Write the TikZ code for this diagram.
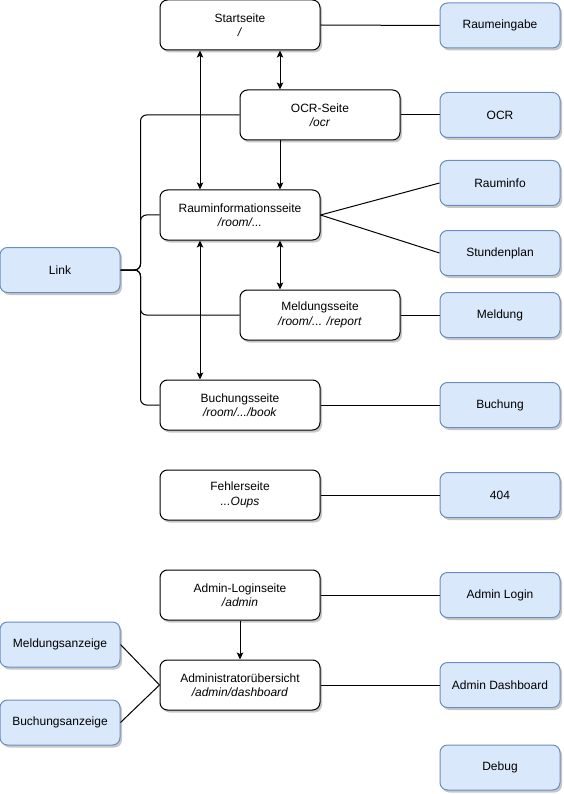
\documentclass[tikz,border=0pt]{standalone}
\usepackage{fontspec}
\setmainfont{Liberation Sans}
\usetikzlibrary{arrows.meta,shadows}
\definecolor{bluefill}{HTML}{DAE8FC}
\definecolor{blueline}{HTML}{6C8EBF}
\tikzset{
  boxshadow/.style={drop shadow={shadow xshift=2pt,shadow yshift=-2.5pt,opacity=0.22,fill=black}},
  page/.style={draw=black,fill=white,line width=1pt,rounded corners=7.5pt,
    minimum width=160pt,minimum height=50pt,inner sep=0pt,align=center,
    font=\fontsize{12}{14.4}\selectfont,boxshadow},
  feature/.style={draw=blueline,fill=bluefill,line width=1pt,rounded corners=7.5pt,
    minimum width=120pt,minimum height=45pt,inner sep=0pt,align=center,
    font=\fontsize{12}{14.4}\selectfont,boxshadow},
  link/.style={line width=1pt,draw=black},
  arr/.style={link,-{Stealth[length=7pt,width=6.5pt,inset=1.5pt]}},
  biarr/.style={link,{Stealth[length=7pt,width=6.5pt,inset=1.5pt]}-{Stealth[length=7pt,width=6.5pt,inset=1.5pt]}},
}
\begin{document}
\begin{tikzpicture}[x=1pt,y=-1pt]
\useasboundingbox (0,0) rectangle (563,794);

% page nodes
\node[page] (start) at (240,25)  {Startseite\\\textit{/}};
\node[page] (ocrp)  at (320,115) {OCR-Seite\\\textit{/ocr}};
\node[page] (room)  at (240,215) {Rauminformationsseite\\\textit{/room/...}};
\node[page] (rep)   at (320,315) {Meldungsseite\\\textit{/room/... /report}};
\node[page] (book)  at (240,405) {Buchungsseite\\\textit{/room/.../book}};
\node[page] (err)   at (240,495) {Fehlerseite\\\textit{...Oups}};
\node[page] (login) at (240,595) {Admin-Loginseite\\\textit{/admin}};
\node[page] (dash)  at (240,685) {Administratorübersicht\\\textit{/admin/dashboard}};

% feature nodes
\node[feature] (fin)    at (500,25.5) {Raumeingabe};
\node[feature] (focr)   at (500,115)  {OCR};
\node[feature] (finfo)  at (500,183)  {Rauminfo};
\node[feature] (fplan)  at (500,253)  {Stundenplan};
\node[feature] (frep)   at (500,315)  {Meldung};
\node[feature] (fbook)  at (500,405)  {Buchung};
\node[feature] (f404)   at (500,495)  {404};
\node[feature] (flog)   at (500,595)  {Admin Login};
\node[feature] (fdash)  at (500,685)  {Admin Dashboard};
\node[feature] (fdbg)   at (500,767.5){Debug};
\node[feature] (flink)  at (60,270)   {Link};
\node[feature] (fmel)   at (60,644.5) {Meldungsanzeige};
\node[feature] (fbuch)  at (60,722.5) {Buchungsanzeige};

% page-to-feature links
\draw[link] (start.east) -- (fin.west);
\draw[link] (ocrp.east) -- (focr.west);
\draw[link] (room.east) -- (finfo.west);
\draw[link] (room.east) -- (fplan.west);
\draw[link] (rep.east) -- (frep.west);
\draw[link] (book.east) -- (fbook.west);
\draw[link] (err.east) -- (f404.west);
\draw[link] (login.east) -- (flog.west);
\draw[link] (dash.east) -- (fdash.west);
\draw[link] (fmel.east) -- (dash.west);
\draw[link] (fbuch.east) -- (dash.west);

% link tree
\draw[link,rounded corners=6pt] (flink.east) -- ++(20,0) |- (ocrp.west);
\draw[link,rounded corners=6pt] (flink.east) -- ++(20,0) |- (room.west);
\draw[link,rounded corners=6pt] (flink.east) -- ++(20,0) |- (rep.west);
\draw[link,rounded corners=6pt] (flink.east) -- ++(20,0) |- (book.west);

% navigation
\draw[biarr] ([xshift=-40pt]start.south) -- ([xshift=-40pt]room.north);
\draw[biarr] ([xshift=40pt]start.south) -- ([xshift=-40pt]ocrp.north);
\draw[arr] ([xshift=-40pt]ocrp.south) -- ([xshift=40pt]room.north);
\draw[biarr] ([xshift=-40pt]room.south) -- ([xshift=-40pt]book.north);
\draw[biarr] ([xshift=40pt]room.south) -- ([xshift=-40pt]rep.north);
\draw[arr] (login.south) -- (dash.north);
\end{tikzpicture}
\end{document}
